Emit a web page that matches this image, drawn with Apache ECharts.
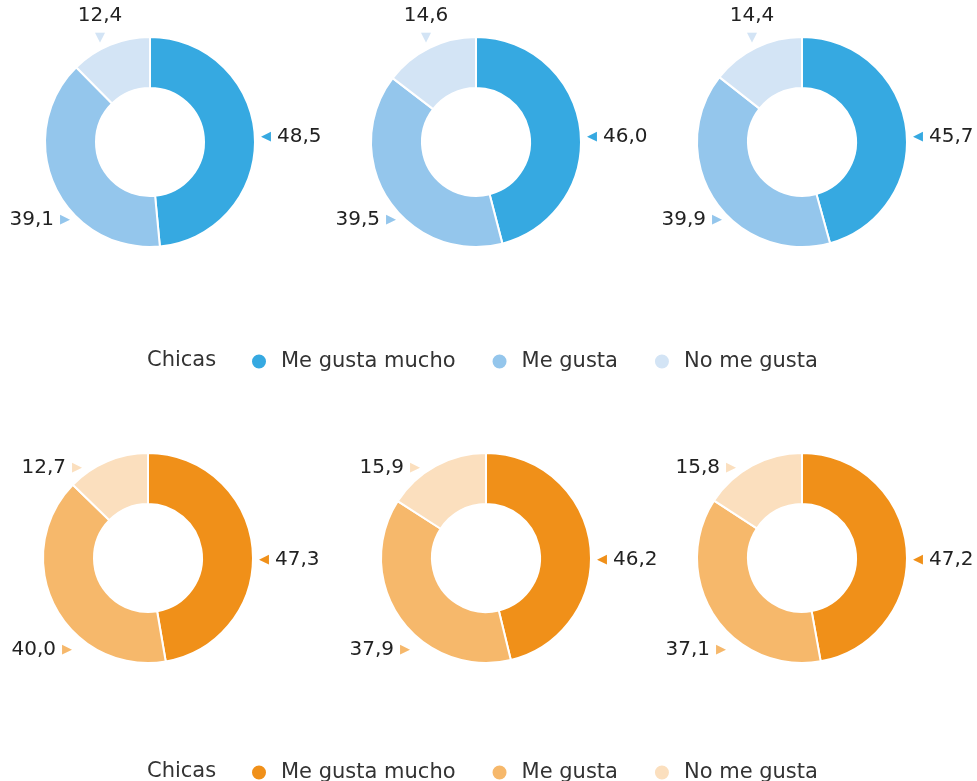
<!DOCTYPE html>
<html>
<head>
<meta charset="utf-8">
<script src="https://cdn.jsdelivr.net/npm/echarts@6/dist/echarts.min.js"></script>
<style>
html,body{margin:0;padding:0;background:#fff;}
#chart{width:977px;height:781px;}
</style>
</head>
<body>
<div id="chart"></div>
<script>
// ---- data ----
const categories = ['Me gusta mucho', 'Me gusta', 'No me gusta'];
const legendTitle = 'Chicas';
const topPanel1 = [48.5, 39.1, 12.4];
const topPanel2 = [46.0, 39.5, 14.6];
const topPanel3 = [45.7, 39.9, 14.4];
const bottomPanel1 = [47.3, 40.0, 12.7];
const bottomPanel2 = [46.2, 37.9, 15.9];
const bottomPanel3 = [47.2, 37.1, 15.8];

// ---- styles / layout ----
const blueColors = ['#36a9e1', '#94c6ec', '#d3e4f5'];
const orangeColors = ['#f09019', '#f6b86b', '#fbdfbe'];
const FONT = 'DejaVu Sans';
const TEXT = '#222';

const panels = [
  { values: topPanel1, cx: 150, cy: 142, row: 'top', colors: blueColors },
  { values: topPanel2, cx: 476, cy: 142, row: 'top', colors: blueColors },
  { values: topPanel3, cx: 802, cy: 142, row: 'top', colors: blueColors },
  { values: bottomPanel1, cx: 148, cy: 558, row: 'bottom', colors: orangeColors },
  { values: bottomPanel2, cx: 486, cy: 558, row: 'bottom', colors: orangeColors },
  { values: bottomPanel3, cx: 802, cy: 558, row: 'bottom', colors: orangeColors }
];

// label anchor offsets relative to each donut centre, by row and slice index
const labelPlace = {
  top: [
    { dx: 111, dy: -5, align: 'left', vAlign: 'middle' },
    { dx: -80, dy: 78, align: 'right', vAlign: 'middle' },
    { dx: -50, dy: -137, align: 'center', vAlign: 'top' }
  ],
  bottom: [
    { dx: 111, dy: 2, align: 'left', vAlign: 'middle' },
    { dx: -76, dy: 92, align: 'right', vAlign: 'middle' },
    { dx: -66, dy: -90, align: 'right', vAlign: 'middle' }
  ]
};

function fmt(v) { return v.toFixed(1).replace('.', ','); }

const series = panels.map(function (p) {
  const rich = {
    v: { fontSize: 20, fontFamily: FONT, color: TEXT, lineHeight: 22 },
    t0: { fontSize: 13, fontFamily: FONT, color: p.colors[0], padding: [0, 6, 0, 0] },
    t1: { fontSize: 13, fontFamily: FONT, color: p.colors[1], padding: [0, 0, 0, 6] },
    t2r: { fontSize: 13, fontFamily: FONT, color: p.colors[2], padding: [0, 0, 0, 6] },
    t2d: { fontSize: 13, fontFamily: FONT, color: p.colors[2], lineHeight: 22, align: 'center' }
  };
  return {
    type: 'pie',
    center: [p.cx, p.cy],
    radius: [54, 105],
    startAngle: 90,
    clockwise: true,
    avoidLabelOverlap: false,
    silent: true,
    itemStyle: { borderColor: '#fff', borderWidth: 2 },
    label: {
      show: true,
      position: 'outside',
      rich: rich,
      formatter: function (params) {
        const txt = fmt(params.value);
        if (params.dataIndex === 0) return '{t0|◀}{v|' + txt + '}';
        if (params.dataIndex === 1) return '{v|' + txt + '}{t1|▶}';
        if (p.row === 'top') return '{v|' + txt + '}\n{t2d|▼}';
        return '{v|' + txt + '}{t2r|▶}';
      }
    },
    labelLine: { show: false },
    labelLayout: function (params) {
      const pl = labelPlace[p.row][params.dataIndex];
      return {
        x: p.cx + pl.dx,
        y: p.cy + pl.dy,
        align: pl.align,
        verticalAlign: pl.vAlign
      };
    },
    data: categories.map(function (name, i) {
      return { name: name, value: p.values[i], itemStyle: { color: p.colors[i] } };
    })
  };
});

function legendData(colors) {
  return categories.map(function (name, i) {
    return { name: name, itemStyle: { color: colors[i] } };
  });
}

const legendCommon = {
  orient: 'horizontal',
  icon: 'circle',
  itemWidth: 34,
  itemHeight: 16,
  itemGap: 35,
  selectedMode: false,
  textStyle: { fontSize: 21, fontFamily: FONT, color: '#333' }
};

const option = {
  backgroundColor: '#fff',
  animation: false,
  title: [
    { text: legendTitle, left: 142, top: 345, textStyle: { fontSize: 21, fontFamily: FONT, fontWeight: 'normal', color: '#333' } },
    { text: legendTitle, left: 142, top: 756, textStyle: { fontSize: 21, fontFamily: FONT, fontWeight: 'normal', color: '#333' } }
  ],
  legend: [
    Object.assign({}, legendCommon, { left: 245, top: 346, data: legendData(blueColors) }),
    Object.assign({}, legendCommon, { left: 245, top: 757, data: legendData(orangeColors) })
  ],
  series: series
};

const chart = echarts.init(document.getElementById('chart'), null, { renderer: 'canvas' });
chart.setOption(option);
</script>
</body>
</html>
